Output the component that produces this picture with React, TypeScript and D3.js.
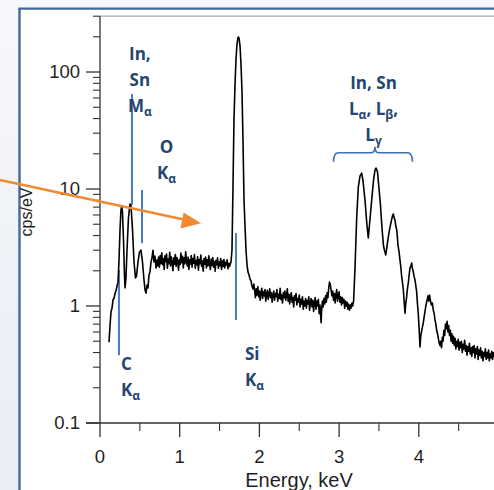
import React from 'react';
import * as d3 from 'd3';

const W = 494;
const H = 490;

// EDS spectrum: [energy (keV), intensity (cps/eV)]
const spectrum: [number, number][] = [
  // low-energy region: C, In/Sn M, O
  [0.113, 0.49], [0.125, 0.67], [0.138, 0.89], [0.151, 0.96], [0.163, 1.13], [0.176, 1.17],
  [0.188, 1.27], [0.201, 1.35], [0.213, 1.48], [0.226, 1.6], [0.238, 2.38], [0.251, 4.47],
  [0.263, 6.6], [0.273, 7.2], [0.282, 6.35], [0.295, 3.66], [0.307, 1.84], [0.314, 1.43],
  [0.326, 1.74], [0.339, 3.01], [0.357, 5.65], [0.376, 7.44], [0.389, 7.2], [0.408, 4.47],
  [0.427, 2.38], [0.445, 1.74], [0.458, 1.8], [0.477, 2.38], [0.496, 2.9], [0.514, 3.0],
  [0.533, 2.38], [0.552, 1.67], [0.565, 1.37], [0.577, 1.29], [0.59, 1.51], [0.602, 1.43],
  [0.615, 1.84], [0.627, 1.95], [0.64, 2.38], [0.652, 2.57], [0.665, 3.0], [0.677, 2.38],
  [0.69, 2.67], [0.703, 2.11], [0.715, 2.47], [0.725, 2.2],
  // background up to Si
  [0.735, 2.62], [0.745, 2.15], [0.755, 2.7], [0.765, 2.3], [0.775, 2.85], [0.785, 2.25],
  [0.795, 2.55], [0.805, 2.05], [0.815, 2.68], [0.825, 2.4], [0.835, 2.78], [0.845, 2.1],
  [0.855, 2.52], [0.865, 2.3], [0.875, 2.88], [0.885, 2.2], [0.895, 2.62], [0.905, 2.35],
  [0.915, 2.0], [0.925, 2.58], [0.935, 2.28], [0.945, 2.75], [0.955, 2.18], [0.965, 2.6],
  [0.975, 2.42], [0.985, 2.02], [0.995, 2.5], [1.005, 2.26], [1.015, 2.84], [1.025, 2.35],
  [1.035, 2.66], [1.045, 2.12], [1.055, 2.58], [1.065, 2.3], [1.075, 2.9], [1.085, 2.4],
  [1.095, 2.2], [1.105, 2.62], [1.115, 2.05], [1.125, 2.48], [1.135, 2.28], [1.145, 2.7],
  [1.155, 2.15], [1.165, 2.55], [1.175, 2.32], [1.185, 2.75], [1.195, 2.1], [1.205, 2.45],
  [1.215, 2.25], [1.225, 2.64], [1.235, 2.02], [1.245, 2.5], [1.255, 2.3], [1.265, 2.72],
  [1.275, 2.18], [1.285, 2.42], [1.295, 1.98], [1.305, 2.55], [1.315, 2.28], [1.325, 2.62],
  [1.335, 2.12], [1.345, 2.48], [1.355, 2.2], [1.365, 2.68], [1.375, 2.3], [1.385, 2.05],
  [1.395, 2.52], [1.405, 2.22], [1.415, 2.6], [1.425, 2.15], [1.435, 2.4], [1.445, 1.98],
  [1.455, 2.46], [1.465, 2.25], [1.475, 2.58], [1.485, 2.1], [1.495, 2.38], [1.505, 2.2],
  [1.515, 2.55], [1.525, 2.05], [1.535, 2.42], [1.545, 2.18], [1.555, 2.5], [1.565, 2.12],
  [1.575, 2.36], [1.585, 2.24], [1.595, 2.48], [1.605, 2.08], [1.615, 2.32], [1.625, 2.18],
  [1.635, 2.3],
  // Si K
  [1.644, 2.38], [1.656, 3.0], [1.669, 10.8], [1.681, 38.9], [1.694, 77.4], [1.706, 126.7],
  [1.719, 173], [1.731, 197], [1.738, 199], [1.744, 195], [1.757, 167], [1.769, 117],
  [1.782, 67.5], [1.794, 26.3], [1.807, 8.05], [1.819, 4.92], [1.832, 3.0], [1.845, 2.24],
  [1.857, 1.95], [1.87, 1.84], [1.882, 1.7], [1.895, 1.64], [1.907, 1.48], [1.92, 1.4],
  [1.93, 1.54],
  // background up to In/Sn L
  [1.94, 1.36], [1.95, 1.18], [1.96, 1.4], [1.97, 1.24], [1.98, 1.46], [1.99, 1.2],
  [2.0, 1.34], [2.01, 1.12], [2.02, 1.3], [2.03, 1.42], [2.04, 1.16], [2.05, 1.32],
  [2.06, 1.22], [2.07, 1.38], [2.08, 1.1], [2.09, 1.28], [2.1, 1.36], [2.11, 1.14],
  [2.12, 1.26], [2.13, 1.4], [2.14, 1.18], [2.15, 1.3], [2.16, 1.08], [2.17, 1.24],
  [2.18, 1.34], [2.19, 1.12], [2.2, 1.28], [2.21, 1.2], [2.22, 1.38], [2.23, 1.1],
  [2.24, 1.26], [2.25, 1.16], [2.26, 1.42], [2.27, 1.14], [2.28, 1.24], [2.29, 1.06],
  [2.3, 1.3], [2.31, 1.18], [2.32, 1.34], [2.33, 1.12], [2.34, 1.22], [2.35, 1.4],
  [2.36, 1.1], [2.37, 1.26], [2.38, 1.04], [2.39, 1.2], [2.4, 1.3], [2.41, 1.08],
  [2.42, 1.18], [2.43, 0.98], [2.44, 1.22], [2.45, 1.12], [2.46, 1.28], [2.47, 1.02],
  [2.48, 1.16], [2.49, 1.08], [2.5, 1.24], [2.51, 0.98], [2.52, 1.14], [2.53, 1.04],
  [2.54, 1.2], [2.55, 0.94], [2.56, 1.1], [2.57, 1.0], [2.58, 1.16], [2.59, 0.96],
  [2.6, 1.12], [2.61, 1.04], [2.62, 1.2], [2.63, 0.92], [2.64, 1.08], [2.65, 1.16],
  [2.66, 0.98], [2.67, 1.12], [2.68, 0.9], [2.69, 1.06], [2.7, 1.18], [2.71, 0.94],
  [2.72, 1.1], [2.73, 1.0], [2.74, 1.14], [2.75, 0.86], [2.76, 1.02], [2.77, 0.8],
  [2.775, 0.72], [2.78, 0.9], [2.79, 1.1], [2.8, 0.98], [2.81, 1.16], [2.82, 1.04],
  [2.83, 1.22], [2.84, 1.08], [2.85, 1.3], [2.86, 1.18], [2.87, 1.44], [2.88, 1.6],
  [2.89, 1.52], [2.9, 1.36], [2.91, 1.22], [2.92, 1.34], [2.93, 1.12], [2.94, 1.28],
  [2.95, 1.06], [2.96, 1.26], [2.97, 1.38], [2.98, 1.1], [2.99, 1.24], [3.0, 1.32],
  [3.01, 1.08], [3.02, 1.2], [3.03, 1.02], [3.04, 1.18], [3.05, 1.06], [3.06, 1.14],
  [3.07, 0.96], [3.08, 1.1], [3.09, 1.0], [3.1, 1.08], [3.11, 0.94], [3.12, 1.04],
  [3.13, 0.92], [3.14, 1.02], [3.15, 0.96], [3.16, 1.06], [3.17, 1.0],
  // In/Sn L lines
  [3.182, 1.1], [3.2, 2.15], [3.221, 5.76], [3.241, 10.4], [3.262, 12.9], [3.283, 13.7],
  [3.299, 11.9], [3.325, 8.05], [3.346, 5.23], [3.366, 3.81], [3.387, 5.43], [3.409, 8.05],
  [3.432, 11.9], [3.45, 14.5], [3.463, 15.1], [3.482, 14.0], [3.5, 10.2], [3.519, 7.3],
  [3.538, 4.64], [3.557, 3.26], [3.572, 2.95], [3.585, 2.73], [3.596, 3.05], [3.608, 3.52],
  [3.625, 4.2], [3.639, 4.73], [3.658, 5.43], [3.67, 5.9], [3.68, 6.12], [3.69, 5.7],
  [3.701, 5.43], [3.712, 4.8], [3.723, 4.47], [3.731, 3.9], [3.739, 3.32], [3.752, 2.9],
  [3.764, 2.47], [3.773, 2.2], [3.783, 1.84], [3.795, 1.6], [3.806, 1.37], [3.816, 1.1],
  [3.827, 0.87], [3.836, 1.05], [3.846, 1.17], [3.857, 1.4], [3.868, 1.57], [3.879, 1.85],
  [3.889, 2.11], [3.9, 2.2], [3.911, 2.33], [3.919, 2.1], [3.927, 2.03], [3.94, 1.8],
  [3.952, 1.67], [3.962, 1.5], [3.973, 1.32], [3.983, 1.05], [3.993, 0.87], [4.005, 0.62],
  [4.015, 0.446], [4.025, 0.56], [4.034, 0.6], [4.045, 0.66], [4.056, 0.716], [4.066, 0.8],
  [4.077, 0.89], [4.088, 1.0], [4.098, 1.08], [4.107, 1.15], [4.115, 1.22], [4.125, 1.1],
  [4.135, 1.24], [4.145, 1.12], [4.159, 1.02], [4.17, 1.06], [4.182, 0.92], [4.193, 0.86],
  [4.203, 0.76], [4.214, 0.7], [4.224, 0.62], [4.235, 0.58], [4.247, 0.52], [4.257, 0.48],
  [4.266, 0.46],
  // high-energy tail
  [4.275, 0.5], [4.285, 0.44], [4.295, 0.54], [4.305, 0.5], [4.315, 0.62], [4.325, 0.56],
  [4.335, 0.7], [4.345, 0.64], [4.355, 0.74], [4.365, 0.6], [4.375, 0.68], [4.385, 0.56],
  [4.395, 0.62], [4.405, 0.5], [4.415, 0.58], [4.425, 0.48], [4.435, 0.55], [4.445, 0.46],
  [4.455, 0.53], [4.465, 0.43], [4.475, 0.5], [4.485, 0.45], [4.495, 0.52], [4.505, 0.42],
  [4.515, 0.49], [4.525, 0.44], [4.535, 0.5], [4.545, 0.4], [4.555, 0.47], [4.565, 0.43],
  [4.575, 0.51], [4.585, 0.41], [4.595, 0.46], [4.605, 0.38], [4.615, 0.45], [4.625, 0.41],
  [4.635, 0.48], [4.645, 0.39], [4.655, 0.44], [4.665, 0.37], [4.675, 0.45], [4.685, 0.4],
  [4.695, 0.46], [4.705, 0.36], [4.715, 0.43], [4.725, 0.39], [4.735, 0.45], [4.745, 0.35],
  [4.755, 0.42], [4.765, 0.38], [4.775, 0.44], [4.785, 0.36], [4.795, 0.41], [4.805, 0.34],
  [4.815, 0.4], [4.825, 0.37], [4.835, 0.43], [4.845, 0.35], [4.855, 0.4], [4.865, 0.36],
  [4.875, 0.42], [4.885, 0.34], [4.895, 0.39], [4.905, 0.36], [4.915, 0.41], [4.925, 0.35],
  [4.935, 0.4], [4.945, 0.37], [4.955, 0.39],
];

const xTicks = [0, 1, 2, 3, 4];
const xTickLabels = ['0', '1', '2', '3', '4'];
const xMinorTicks = [0.5, 1.5, 2.5, 3.5, 4.5];
const yTicks = [0.1, 1, 10, 100];
const yTickLabels = ['0.1', '1', '10', '100'];

// characteristic-line markers: energy (keV) and vertical extent (cps/eV)
const markerEnergies = [0.238, 0.401, 0.527, 1.706];
const markerTops = [2.03, 65, 9.8, 4.2];
const markerBottoms = [0.38, 7.3, 3.45, 0.76];

// label groups: anchor energy / cps for the first baseline
type Part = { t: string; sub?: boolean };
const labelGroups: { e: number; c: number; anchor: 'start' | 'middle'; lines: Part[][] }[] = [
  { e: 0.5, c: 126.7, anchor: 'middle', lines: [[{ t: 'In,' }], [{ t: 'Sn' }], [{ t: 'M' }, { t: 'α', sub: true }]] },
  { e: 0.834, c: 20.3, anchor: 'middle', lines: [[{ t: 'O' }], [{ t: 'K' }, { t: 'α', sub: true }]] },
  { e: 0.263, c: 0.284, anchor: 'start', lines: [[{ t: 'C' }], [{ t: 'K' }, { t: 'α', sub: true }]] },
  { e: 1.819, c: 0.345, anchor: 'start', lines: [[{ t: 'Si' }], [{ t: 'K' }, { t: 'α', sub: true }]] },
  {
    e: 3.432, c: 71.6, anchor: 'middle',
    lines: [
      [{ t: 'In, Sn' }],
      [{ t: 'L' }, { t: 'α', sub: true }, { t: ', L' }, { t: 'β', sub: true }, { t: ',' }],
      [{ t: 'L' }, { t: 'γ', sub: true }],
    ],
  },
];

// L-line group brace: energy span and height (cps/eV)
const braceStart = 2.93;
const braceEnd = 3.92;
const braceMid = 3.45;
const braceLevel = 20.4;

const x = d3.scaleLinear().domain([0, 5]).range([100, 498.5]);
const y = d3.scaleLog().domain([0.1, 300]).range([423, 16.2]);

const yMinor: number[] = [];
[0.1, 1, 10, 100].forEach((d) => {
  for (let k = 2; k <= 9; k++) {
    const v = d * k;
    if (v <= 300) yMinor.push(v);
  }
});

const line = d3
  .line<[number, number]>()
  .x((d) => x(d[0]))
  .y((d) => y(d[1]));

const TEXT_BLUE = '#23456f';
const MARK_BLUE = '#4a7cc0';
const AXIS = '#333';
const SANS = "'Liberation Sans', Arial, sans-serif";

function bracePath() {
  const xl = x(braceStart);
  const xr = x(braceEnd);
  const xm = x(braceMid);
  const yt = y(braceLevel);
  const yb = yt + 9;
  return `M${xl},${yb} Q${xl},${yt} ${xl + 5},${yt} L${xm - 4},${yt} Q${xm},${yt} ${xm},${yt - 6} Q${xm},${yt} ${xm + 4},${yt} L${xr - 5},${yt} Q${xr},${yt} ${xr},${yb}`;
}

export default function App() {
  return (
    <svg
      width={W}
      height={H}
      viewBox={`0 0 ${W} ${H}`}
      style={{ position: 'absolute', left: 0, top: 0, display: 'block' }}
    >
      <defs>
        <linearGradient id="bg" x1="0" y1="0" x2="0" y2="1">
          <stop offset="0" stopColor="#f7f8fb" />
          <stop offset="1" stopColor="#e9edf5" />
        </linearGradient>
        <clipPath id="plotClip">
          <rect x={20} y={10} width={W - 20} height={H - 10} />
        </clipPath>
      </defs>

      {/* slide background and panel */}
      <rect x={0} y={0} width={W} height={H} fill="url(#bg)" />
      <rect x={20} y={9.5} width={W - 20} height={H - 9.5} fill="#ffffff" />
      <line x1={19.5} y1={8.6} x2={19.5} y2={H} stroke="#41699e" strokeWidth={2.4} />
      <line x1={18.3} y1={8.6} x2={W} y2={8.6} stroke="#41699e" strokeWidth={2.4} />

      <g clipPath="url(#plotClip)">
        {/* frame top */}
        <line x1={x(0)} y1={y(300)} x2={W} y2={y(300)} stroke="#a9a9a9" strokeWidth={1.2} />

        {/* y axis */}
        <line x1={x(0)} y1={y(300)} x2={x(0)} y2={y(0.1)} stroke={AXIS} strokeWidth={1.3} />
        {yTicks.map((t, i) => (
          <g key={`yt${i}`}>
            <line x1={x(0) - 14} x2={x(0)} y1={y(t)} y2={y(t)} stroke={AXIS} strokeWidth={1.3} />
            <text x={80} y={y(t)} dy="0.35em" textAnchor="end" fontFamily={SANS} fontSize={18.5} fill="#1f1f1f">
              {yTickLabels[i]}
            </text>
          </g>
        ))}
        {yMinor.map((t, i) => (
          <line key={`ym${i}`} x1={x(0) - 7} x2={x(0)} y1={y(t)} y2={y(t)} stroke={AXIS} strokeWidth={1.1} />
        ))}

        {/* x axis */}
        <line x1={x(0) - 14} y1={y(0.1)} x2={W} y2={y(0.1)} stroke={AXIS} strokeWidth={1.3} />
        {xTicks.map((t, i) => (
          <g key={`xt${i}`}>
            <line x1={x(t)} x2={x(t)} y1={y(0.1)} y2={y(0.1) + 14} stroke={AXIS} strokeWidth={1.3} />
            <text x={x(t)} y={463} textAnchor="middle" fontFamily={SANS} fontSize={18.5} fill="#1f1f1f">
              {xTickLabels[i]}
            </text>
          </g>
        ))}
        {xMinorTicks.map((t, i) => (
          <line key={`xm${i}`} x1={x(t)} x2={x(t)} y1={y(0.1)} y2={y(0.1) + 8} stroke={AXIS} strokeWidth={1.1} />
        ))}

        <text x={299} y={487} textAnchor="middle" fontFamily={SANS} fontSize={20} fill="#1f1f1f">
          Energy, keV
        </text>
        <text
          transform="translate(31.5,212) rotate(-90)"
          textAnchor="middle"
          fontFamily={SANS}
          fontSize={16}
          fill="#1f1f1f"
        >
          cps/eV
        </text>

        {/* characteristic line markers */}
        {markerEnergies.map((e, i) => (
          <line
            key={`mk${i}`}
            x1={x(e)}
            x2={x(e)}
            y1={y(markerTops[i])}
            y2={y(markerBottoms[i])}
            stroke={MARK_BLUE}
            strokeWidth={2}
          />
        ))}

        {/* spectrum */}
        <path d={line(spectrum) || ''} fill="none" stroke="#000" strokeWidth={1.6} strokeLinejoin="round" />

        {/* brace over L lines */}
        <path d={bracePath()} fill="none" stroke="#3f6fae" strokeWidth={1.6} />

        {/* line labels */}
        {labelGroups.map((g, gi) => (
          <text
            key={`lg${gi}`}
            fontFamily="'Open Sans', 'Noto Sans', sans-serif"
            fontWeight={700}
            fontSize={17}
            fill={TEXT_BLUE}
            textAnchor={g.anchor}
          >
            {g.lines.map((ln, li) => (
              <tspan key={li} x={x(g.e)} y={y(g.c) + li * 26}>
                {ln.map((p, pi) =>
                  p.sub ? (
                    <tspan key={pi} fontSize={12} dy={4}>
                      {p.t}
                    </tspan>
                  ) : (
                    <tspan key={pi} dy={pi > 0 && ln[pi - 1].sub ? -4 : 0}>
                      {p.t}
                    </tspan>
                  )
                )}
              </tspan>
            ))}
          </text>
        ))}
      </g>

      {/* orange pointer arrow */}
      <line x1={0} y1={180} x2={186} y2={220} stroke="#f08a30" strokeWidth={2.4} />
      <path d="M201,223.3 L183.5,212.5 L180.5,228.5 Z" fill="#f08a30" />
    </svg>
  );
}
